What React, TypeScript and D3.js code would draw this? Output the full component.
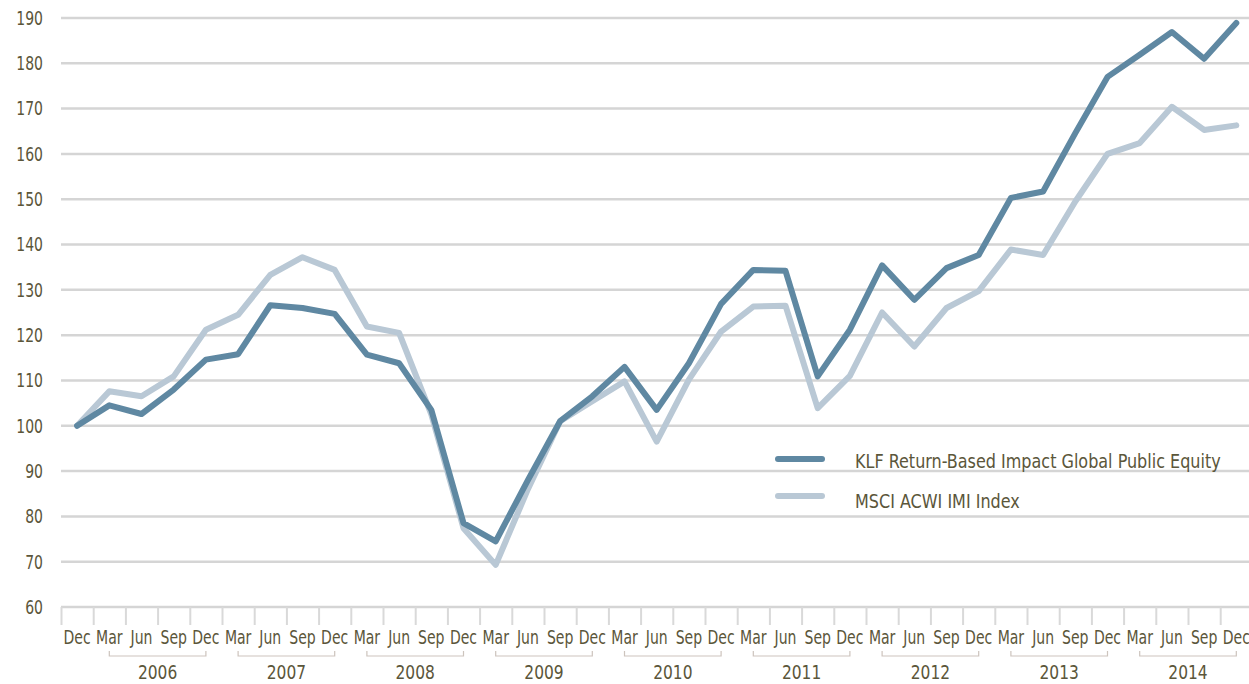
import React from "react";
import * as d3 from "d3";

// quarterly index values, Dec 2005 = 100
const quarters = [
  "Dec",
  "Mar", "Jun", "Sep", "Dec",
  "Mar", "Jun", "Sep", "Dec",
  "Mar", "Jun", "Sep", "Dec",
  "Mar", "Jun", "Sep", "Dec",
  "Mar", "Jun", "Sep", "Dec",
  "Mar", "Jun", "Sep", "Dec",
  "Mar", "Jun", "Sep", "Dec",
  "Mar", "Jun", "Sep", "Dec",
  "Mar", "Jun", "Sep", "Dec",
];
const years = ["2006", "2007", "2008", "2009", "2010", "2011", "2012", "2013", "2014"];

const klf = [
  100, 104.5, 102.6, 108, 114.6, 115.8, 126.6, 126, 124.7, 115.7, 113.8, 103.5,
  78.5, 74.5, 88, 101, 106.5, 113, 103.5, 113.8, 126.9, 134.4, 134.2, 110.9,
  121.2, 135.4, 127.8, 134.8, 137.7, 150.3, 151.7, 164.6, 177, 181.9, 186.9, 181, 188.9,
];
const msci = [
  100, 107.6, 106.5, 110.9, 121.2, 124.5, 133.3, 137.2, 134.4, 121.9, 120.5, 102.5,
  77.4, 69.3, 86, 101, 105.4, 109.8, 96.5, 110.2, 120.8, 126.3, 126.5, 103.9,
  111, 125, 117.5, 126, 129.7, 138.9, 137.7, 149.5, 160, 162.4, 170.4, 165.3, 166.3,
];
const yTicks = [60, 70, 80, 90, 100, 110, 120, 130, 140, 150, 160, 170, 180, 190];

const seriesNames = ["KLF Return-Based Impact Global Public Equity", "MSCI ACWI IMI Index"];
const colors = ["#5f88a2", "#b9c8d5"];

const W = 1249;
const H = 684;
const FONT = "'DejaVu Sans Condensed', 'DejaVu Sans', sans-serif";
const TEXT = "#5b563a";

// condensed text: the original uses a narrow face, so squeeze horizontally
function CText(props: {
  x: number;
  y: number;
  sx: number;
  anchor?: string;
  size?: number;
  dy?: string;
  children: React.ReactNode;
}) {
  return (
    <text
      transform={`translate(${props.x},${props.y}) scale(${props.sx},1)`}
      textAnchor={props.anchor || "start"}
      dy={props.dy}
      fontSize={props.size || 19}
      fill={TEXT}
    >
      {props.children}
    </text>
  );
}

export default function App() {
  const x = d3
    .scaleBand<number>()
    .domain(d3.range(quarters.length))
    .range([61, 61 + quarters.length * 32.2])
    .paddingInner(0)
    .paddingOuter(0);
  const y = d3.scaleLinear().domain([60, 190]).range([607, 18]);
  const cx = (i: number) => (x(i) as number) + x.bandwidth() / 2;

  const line = d3
    .line<number>()
    .x((d, i) => cx(i))
    .y((d) => y(d));

  return (
    <svg
      width={W}
      height={H}
      style={{ position: "absolute", left: 0, top: 0, background: "#fff" }}
      fontFamily={FONT}
    >
      {/* grid + y labels */}
      {yTicks.map((t) => (
        <g key={t}>
          <line x1={61} x2={W} y1={y(t)} y2={y(t)} stroke="#d5d5d5" strokeWidth={2.5} />
          <CText x={43} y={y(t)} dy="0.36em" anchor="end" sx={0.82} size={19}>
            {t}
          </CText>
        </g>
      ))}

      {/* x ticks */}
      {quarters.map((q, i) => (
        <g key={i}>
          <line
            x1={(x(i) as number) + 0.5}
            x2={(x(i) as number) + 0.5}
            y1={607}
            y2={625}
            stroke="#d9d9d9"
            strokeWidth={2}
          />
          <CText x={cx(i)} y={643.5} anchor="middle" sx={0.78} size={20}>
            {q}
          </CText>
        </g>
      ))}

      {/* year brackets */}
      {years.map((yr, k) => {
        const a = cx(1 + k * 4);
        const b = cx(4 + k * 4);
        return (
          <g key={yr}>
            <path
              d={`M${a},651V656H${b}V651`}
              fill="none"
              stroke="#cdc4bd"
              strokeWidth={1.2}
            />
            <CText x={(a + b) / 2} y={679} anchor="middle" sx={0.86} size={20}>
              {yr}
            </CText>
          </g>
        );
      })}

      {/* series */}
      <path d={line(msci) || ""} fill="none" stroke={colors[1]} strokeWidth={6} strokeLinejoin="round" strokeLinecap="round" />
      <path d={line(klf) || ""} fill="none" stroke={colors[0]} strokeWidth={6} strokeLinejoin="round" strokeLinecap="round" />

      {/* legend */}
      {seriesNames.map((name, k) => (
        <g key={name}>
          <line
            x1={778}
            x2={822}
            y1={459 + k * 37}
            y2={459 + k * 37}
            stroke={colors[k]}
            strokeWidth={6}
            strokeLinecap="round"
          />
          <CText x={855} y={468 + k * 40} sx={0.89} size={20}>
            {name}
          </CText>
        </g>
      ))}
    </svg>
  );
}
